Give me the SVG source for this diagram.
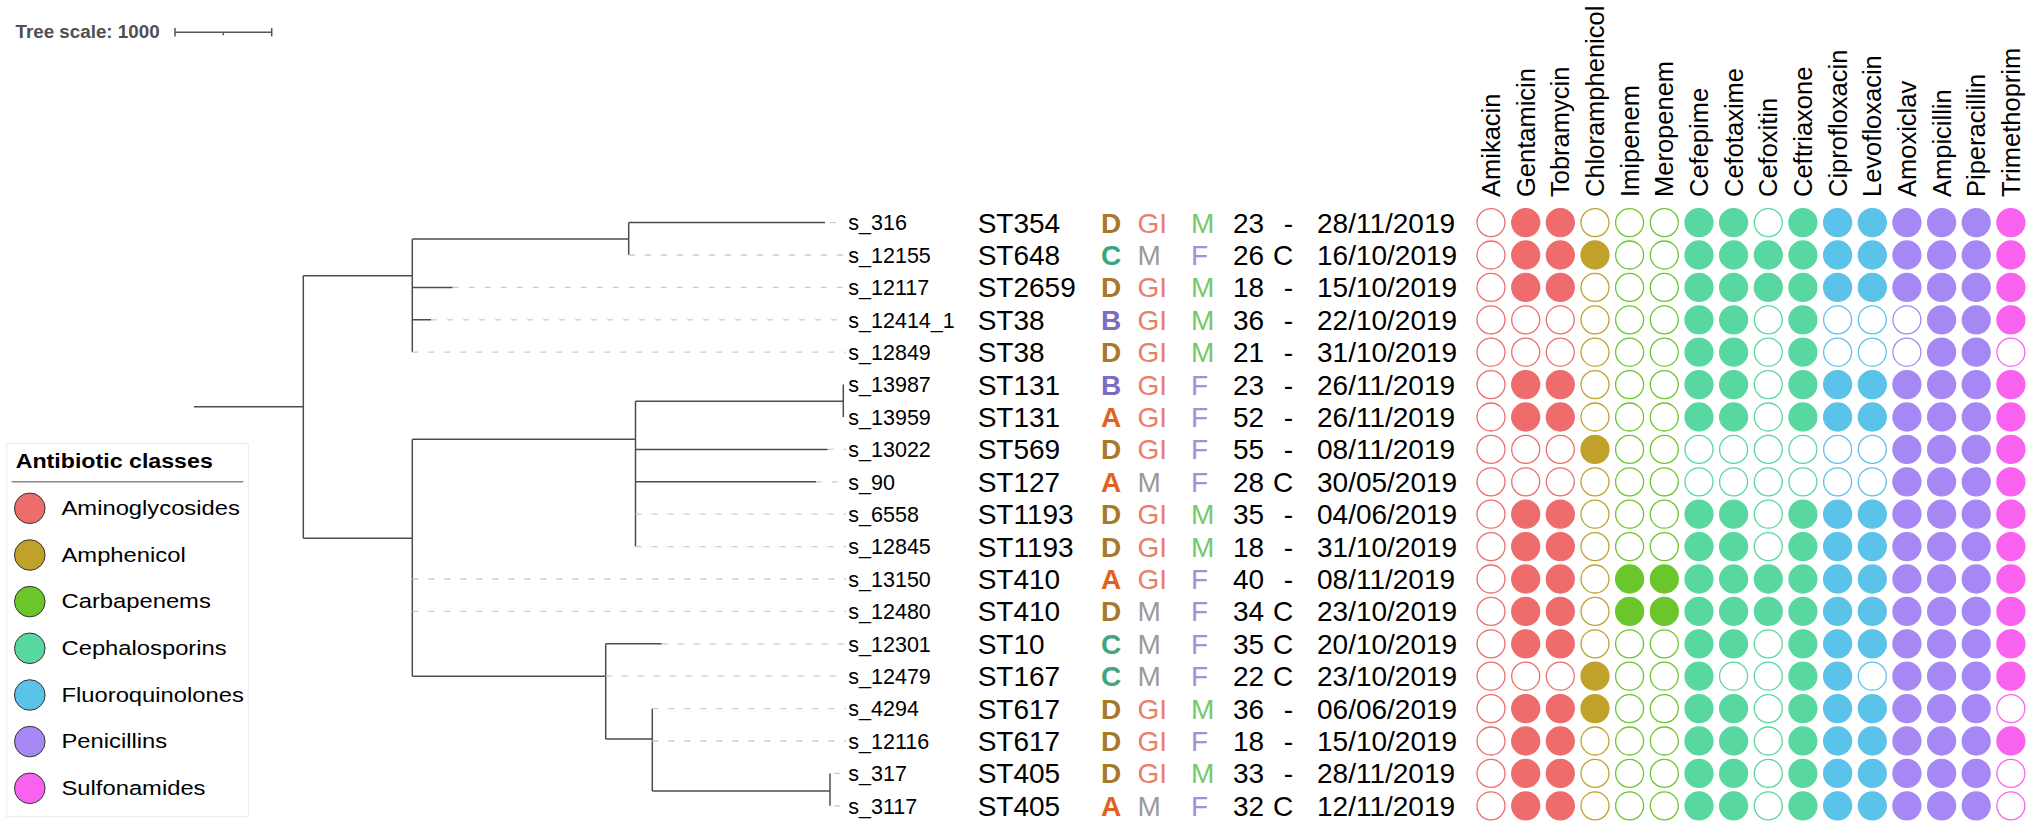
<svg xmlns="http://www.w3.org/2000/svg" width="2032" height="829" viewBox="0 0 2032 829">
<style>
text{font-family:"Liberation Sans",Arial,sans-serif;fill:#000}
.lf{font-size:21.5px}
.bg{font-size:28px}
.b{font-weight:bold}
.hd{font-size:25.5px}
.lg{font-size:20.5px}
.lD{fill:#a8782b}.lC{fill:#39a87a}.lB{fill:#7b6dbf}.lA{fill:#e0621e}
.gi{fill:#e8806a}.mg{fill:#9a9a9a}.mm{fill:#77c86a}.ff{fill:#a78fd6}
.tree{fill:none;stroke:#4d4d4d;stroke-width:1.5}
.dash{fill:none;stroke:#cccccc;stroke-width:1.3;stroke-dasharray:6 10}
circle{stroke-width:1.3}
.o{fill:#fff}
.am{stroke:#ee6c6c}.am.f{fill:#ee6c6c}
.ph{stroke:#c0a22b}.ph.f{fill:#c0a22b}
.cb{stroke:#6bc62b}.cb.f{fill:#6bc62b}
.cp{stroke:#58d8a0}.cp.f{fill:#58d8a0}
.fq{stroke:#5bc2e9}.fq.f{fill:#5bc2e9}
.pn{stroke:#a688f4}.pn.f{fill:#a688f4}
.su{stroke:#f962ee}.su.f{fill:#f962ee}
.lgc{stroke:#333;stroke-width:1}
</style>
<rect width="2032" height="829" fill="#fff"/>

<g id="tree-scale">
<text x="15.5" y="37.7" font-size="18.8" font-weight="bold" style="fill:#505050">Tree scale: 1000</text>
<path d="M175,32.3H271.7M175,28V36.5M271.7,28V36.5M223.3,32.3V35.3" fill="none" stroke="#555" stroke-width="1.5"/>
</g>

<g id="connectors">
<path class="tree" d="M194,406.7H303.3M303.3,275.7V538.3M303.3,275.7H412.3M412.3,239V352.2M412.3,239H628.7M628.7,222.6V255M628.7,222.6H825M412.3,287.4H452.7M412.3,319.8H431M303.3,538.3H412.3M412.3,439.3V676.2M412.3,439.3H635.5M635.5,401.2V546.6M635.5,401.2H843.3M843.3,384.6V417M635.5,449.4H827.7M635.5,481.8H816M412.3,676.2H605.7M605.7,643.8V739M605.7,643.8H661.7M605.7,739H652.3M652.3,708.6V791M652.3,791H830M830,773.4V805.8"/>
<path class="dash" d="M830,222.6H846M628.7,255H846M452.7,287.4H846M431,319.8H846M412.3,352.2H846M827.7,449.4H846M816,481.8H846M635.5,514.2H846M635.5,546.6H846M412.3,579H846M412.3,611.4H846M661.7,643.8H846M605.7,676.2H846M652.3,708.6H846M652.3,741H846M834,773.4H846M834,805.8H846"/>
</g>

<g id="headers" class="hd">
<text class="hd" transform="translate(1500,197) rotate(-90)">Amikacin</text>
<text class="hd" transform="translate(1534.7,197) rotate(-90)">Gentamicin</text>
<text class="hd" transform="translate(1569.3,197) rotate(-90)">Tobramycin</text>
<text class="hd" transform="translate(1604,197) rotate(-90)">Chloramphenicol</text>
<text class="hd" transform="translate(1638.6,197) rotate(-90)">Imipenem</text>
<text class="hd" transform="translate(1673.3,197) rotate(-90)">Meropenem</text>
<text class="hd" transform="translate(1708,197) rotate(-90)">Cefepime</text>
<text class="hd" transform="translate(1742.6,197) rotate(-90)">Cefotaxime</text>
<text class="hd" transform="translate(1777.3,197) rotate(-90)">Cefoxitin</text>
<text class="hd" transform="translate(1811.9,197) rotate(-90)">Ceftriaxone</text>
<text class="hd" transform="translate(1846.6,197) rotate(-90)">Ciprofloxacin</text>
<text class="hd" transform="translate(1881.3,197) rotate(-90)">Levofloxacin</text>
<text class="hd" transform="translate(1915.9,197) rotate(-90)">Amoxiclav</text>
<text class="hd" transform="translate(1950.6,197) rotate(-90)">Ampicillin</text>
<text class="hd" transform="translate(1985.2,197) rotate(-90)">Piperacillin</text>
<text class="hd" transform="translate(2019.9,197) rotate(-90)">Trimethoprim</text>
</g>

<g id="row-s_316" transform="translate(0,222.6)">
<text class="lf" x="848.3" y="7.7">s_316</text><text class="bg" x="977.7" y="10">ST354</text><text class="bg b lD" x="1101" y="10">D</text><text class="bg gi" x="1137.5" y="10">GI</text><text class="bg mm" x="1191" y="10">M</text><text class="bg" x="1233" y="10">23</text><text class="bg" x="1293.2" y="10" text-anchor="end">-</text><text class="bg" x="1317" y="10">28/11/2019</text>
<circle cx="1491" r="14" class="am o"/><circle cx="1525.7" r="14" class="am f"/><circle cx="1560.3" r="14" class="am f"/><circle cx="1595" r="14" class="ph o"/><circle cx="1629.6" r="14" class="cb o"/><circle cx="1664.3" r="14" class="cb o"/><circle cx="1699" r="14" class="cp f"/><circle cx="1733.6" r="14" class="cp f"/><circle cx="1768.3" r="14" class="cp o"/><circle cx="1802.9" r="14" class="cp f"/><circle cx="1837.6" r="14" class="fq f"/><circle cx="1872.3" r="14" class="fq f"/><circle cx="1906.9" r="14" class="pn f"/><circle cx="1941.6" r="14" class="pn f"/><circle cx="1976.2" r="14" class="pn f"/><circle cx="2010.9" r="14" class="su f"/>
</g>

<g id="row-s_12155" transform="translate(0,255)">
<text class="lf" x="848.3" y="7.7">s_12155</text><text class="bg" x="977.7" y="10">ST648</text><text class="bg b lC" x="1101" y="10">C</text><text class="bg mg" x="1137.5" y="10">M</text><text class="bg ff" x="1191" y="10">F</text><text class="bg" x="1233" y="10">26</text><text class="bg" x="1293.2" y="10" text-anchor="end">C</text><text class="bg" x="1317" y="10">16/10/2019</text>
<circle cx="1491" r="14" class="am o"/><circle cx="1525.7" r="14" class="am f"/><circle cx="1560.3" r="14" class="am f"/><circle cx="1595" r="14" class="ph f"/><circle cx="1629.6" r="14" class="cb o"/><circle cx="1664.3" r="14" class="cb o"/><circle cx="1699" r="14" class="cp f"/><circle cx="1733.6" r="14" class="cp f"/><circle cx="1768.3" r="14" class="cp f"/><circle cx="1802.9" r="14" class="cp f"/><circle cx="1837.6" r="14" class="fq f"/><circle cx="1872.3" r="14" class="fq f"/><circle cx="1906.9" r="14" class="pn f"/><circle cx="1941.6" r="14" class="pn f"/><circle cx="1976.2" r="14" class="pn f"/><circle cx="2010.9" r="14" class="su f"/>
</g>

<g id="row-s_12117" transform="translate(0,287.4)">
<text class="lf" x="848.3" y="7.7">s_12117</text><text class="bg" x="977.7" y="10">ST2659</text><text class="bg b lD" x="1101" y="10">D</text><text class="bg gi" x="1137.5" y="10">GI</text><text class="bg mm" x="1191" y="10">M</text><text class="bg" x="1233" y="10">18</text><text class="bg" x="1293.2" y="10" text-anchor="end">-</text><text class="bg" x="1317" y="10">15/10/2019</text>
<circle cx="1491" r="14" class="am o"/><circle cx="1525.7" r="14" class="am f"/><circle cx="1560.3" r="14" class="am f"/><circle cx="1595" r="14" class="ph o"/><circle cx="1629.6" r="14" class="cb o"/><circle cx="1664.3" r="14" class="cb o"/><circle cx="1699" r="14" class="cp f"/><circle cx="1733.6" r="14" class="cp f"/><circle cx="1768.3" r="14" class="cp f"/><circle cx="1802.9" r="14" class="cp f"/><circle cx="1837.6" r="14" class="fq f"/><circle cx="1872.3" r="14" class="fq f"/><circle cx="1906.9" r="14" class="pn f"/><circle cx="1941.6" r="14" class="pn f"/><circle cx="1976.2" r="14" class="pn f"/><circle cx="2010.9" r="14" class="su f"/>
</g>

<g id="row-s_12414_1" transform="translate(0,319.8)">
<text class="lf" x="848.3" y="7.7">s_12414_1</text><text class="bg" x="977.7" y="10">ST38</text><text class="bg b lB" x="1101" y="10">B</text><text class="bg gi" x="1137.5" y="10">GI</text><text class="bg mm" x="1191" y="10">M</text><text class="bg" x="1233" y="10">36</text><text class="bg" x="1293.2" y="10" text-anchor="end">-</text><text class="bg" x="1317" y="10">22/10/2019</text>
<circle cx="1491" r="14" class="am o"/><circle cx="1525.7" r="14" class="am o"/><circle cx="1560.3" r="14" class="am o"/><circle cx="1595" r="14" class="ph o"/><circle cx="1629.6" r="14" class="cb o"/><circle cx="1664.3" r="14" class="cb o"/><circle cx="1699" r="14" class="cp f"/><circle cx="1733.6" r="14" class="cp f"/><circle cx="1768.3" r="14" class="cp o"/><circle cx="1802.9" r="14" class="cp f"/><circle cx="1837.6" r="14" class="fq o"/><circle cx="1872.3" r="14" class="fq o"/><circle cx="1906.9" r="14" class="pn o"/><circle cx="1941.6" r="14" class="pn f"/><circle cx="1976.2" r="14" class="pn f"/><circle cx="2010.9" r="14" class="su f"/>
</g>

<g id="row-s_12849" transform="translate(0,352.2)">
<text class="lf" x="848.3" y="7.7">s_12849</text><text class="bg" x="977.7" y="10">ST38</text><text class="bg b lD" x="1101" y="10">D</text><text class="bg gi" x="1137.5" y="10">GI</text><text class="bg mm" x="1191" y="10">M</text><text class="bg" x="1233" y="10">21</text><text class="bg" x="1293.2" y="10" text-anchor="end">-</text><text class="bg" x="1317" y="10">31/10/2019</text>
<circle cx="1491" r="14" class="am o"/><circle cx="1525.7" r="14" class="am o"/><circle cx="1560.3" r="14" class="am o"/><circle cx="1595" r="14" class="ph o"/><circle cx="1629.6" r="14" class="cb o"/><circle cx="1664.3" r="14" class="cb o"/><circle cx="1699" r="14" class="cp f"/><circle cx="1733.6" r="14" class="cp f"/><circle cx="1768.3" r="14" class="cp o"/><circle cx="1802.9" r="14" class="cp f"/><circle cx="1837.6" r="14" class="fq o"/><circle cx="1872.3" r="14" class="fq o"/><circle cx="1906.9" r="14" class="pn o"/><circle cx="1941.6" r="14" class="pn f"/><circle cx="1976.2" r="14" class="pn f"/><circle cx="2010.9" r="14" class="su o"/>
</g>

<g id="row-s_13987" transform="translate(0,384.6)">
<text class="lf" x="848.3" y="7.7">s_13987</text><text class="bg" x="977.7" y="10">ST131</text><text class="bg b lB" x="1101" y="10">B</text><text class="bg gi" x="1137.5" y="10">GI</text><text class="bg ff" x="1191" y="10">F</text><text class="bg" x="1233" y="10">23</text><text class="bg" x="1293.2" y="10" text-anchor="end">-</text><text class="bg" x="1317" y="10">26/11/2019</text>
<circle cx="1491" r="14" class="am o"/><circle cx="1525.7" r="14" class="am f"/><circle cx="1560.3" r="14" class="am f"/><circle cx="1595" r="14" class="ph o"/><circle cx="1629.6" r="14" class="cb o"/><circle cx="1664.3" r="14" class="cb o"/><circle cx="1699" r="14" class="cp f"/><circle cx="1733.6" r="14" class="cp f"/><circle cx="1768.3" r="14" class="cp o"/><circle cx="1802.9" r="14" class="cp f"/><circle cx="1837.6" r="14" class="fq f"/><circle cx="1872.3" r="14" class="fq f"/><circle cx="1906.9" r="14" class="pn f"/><circle cx="1941.6" r="14" class="pn f"/><circle cx="1976.2" r="14" class="pn f"/><circle cx="2010.9" r="14" class="su f"/>
</g>

<g id="row-s_13959" transform="translate(0,417)">
<text class="lf" x="848.3" y="7.7">s_13959</text><text class="bg" x="977.7" y="10">ST131</text><text class="bg b lA" x="1101" y="10">A</text><text class="bg gi" x="1137.5" y="10">GI</text><text class="bg ff" x="1191" y="10">F</text><text class="bg" x="1233" y="10">52</text><text class="bg" x="1293.2" y="10" text-anchor="end">-</text><text class="bg" x="1317" y="10">26/11/2019</text>
<circle cx="1491" r="14" class="am o"/><circle cx="1525.7" r="14" class="am f"/><circle cx="1560.3" r="14" class="am f"/><circle cx="1595" r="14" class="ph o"/><circle cx="1629.6" r="14" class="cb o"/><circle cx="1664.3" r="14" class="cb o"/><circle cx="1699" r="14" class="cp f"/><circle cx="1733.6" r="14" class="cp f"/><circle cx="1768.3" r="14" class="cp o"/><circle cx="1802.9" r="14" class="cp f"/><circle cx="1837.6" r="14" class="fq f"/><circle cx="1872.3" r="14" class="fq f"/><circle cx="1906.9" r="14" class="pn f"/><circle cx="1941.6" r="14" class="pn f"/><circle cx="1976.2" r="14" class="pn f"/><circle cx="2010.9" r="14" class="su f"/>
</g>

<g id="row-s_13022" transform="translate(0,449.4)">
<text class="lf" x="848.3" y="7.7">s_13022</text><text class="bg" x="977.7" y="10">ST569</text><text class="bg b lD" x="1101" y="10">D</text><text class="bg gi" x="1137.5" y="10">GI</text><text class="bg ff" x="1191" y="10">F</text><text class="bg" x="1233" y="10">55</text><text class="bg" x="1293.2" y="10" text-anchor="end">-</text><text class="bg" x="1317" y="10">08/11/2019</text>
<circle cx="1491" r="14" class="am o"/><circle cx="1525.7" r="14" class="am o"/><circle cx="1560.3" r="14" class="am o"/><circle cx="1595" r="14" class="ph f"/><circle cx="1629.6" r="14" class="cb o"/><circle cx="1664.3" r="14" class="cb o"/><circle cx="1699" r="14" class="cp o"/><circle cx="1733.6" r="14" class="cp o"/><circle cx="1768.3" r="14" class="cp o"/><circle cx="1802.9" r="14" class="cp o"/><circle cx="1837.6" r="14" class="fq o"/><circle cx="1872.3" r="14" class="fq o"/><circle cx="1906.9" r="14" class="pn f"/><circle cx="1941.6" r="14" class="pn f"/><circle cx="1976.2" r="14" class="pn f"/><circle cx="2010.9" r="14" class="su f"/>
</g>

<g id="row-s_90" transform="translate(0,481.8)">
<text class="lf" x="848.3" y="7.7">s_90</text><text class="bg" x="977.7" y="10">ST127</text><text class="bg b lA" x="1101" y="10">A</text><text class="bg mg" x="1137.5" y="10">M</text><text class="bg ff" x="1191" y="10">F</text><text class="bg" x="1233" y="10">28</text><text class="bg" x="1293.2" y="10" text-anchor="end">C</text><text class="bg" x="1317" y="10">30/05/2019</text>
<circle cx="1491" r="14" class="am o"/><circle cx="1525.7" r="14" class="am o"/><circle cx="1560.3" r="14" class="am o"/><circle cx="1595" r="14" class="ph o"/><circle cx="1629.6" r="14" class="cb o"/><circle cx="1664.3" r="14" class="cb o"/><circle cx="1699" r="14" class="cp o"/><circle cx="1733.6" r="14" class="cp o"/><circle cx="1768.3" r="14" class="cp o"/><circle cx="1802.9" r="14" class="cp o"/><circle cx="1837.6" r="14" class="fq o"/><circle cx="1872.3" r="14" class="fq o"/><circle cx="1906.9" r="14" class="pn f"/><circle cx="1941.6" r="14" class="pn f"/><circle cx="1976.2" r="14" class="pn f"/><circle cx="2010.9" r="14" class="su f"/>
</g>

<g id="row-s_6558" transform="translate(0,514.2)">
<text class="lf" x="848.3" y="7.7">s_6558</text><text class="bg" x="977.7" y="10">ST1193</text><text class="bg b lD" x="1101" y="10">D</text><text class="bg gi" x="1137.5" y="10">GI</text><text class="bg mm" x="1191" y="10">M</text><text class="bg" x="1233" y="10">35</text><text class="bg" x="1293.2" y="10" text-anchor="end">-</text><text class="bg" x="1317" y="10">04/06/2019</text>
<circle cx="1491" r="14" class="am o"/><circle cx="1525.7" r="14" class="am f"/><circle cx="1560.3" r="14" class="am f"/><circle cx="1595" r="14" class="ph o"/><circle cx="1629.6" r="14" class="cb o"/><circle cx="1664.3" r="14" class="cb o"/><circle cx="1699" r="14" class="cp f"/><circle cx="1733.6" r="14" class="cp f"/><circle cx="1768.3" r="14" class="cp o"/><circle cx="1802.9" r="14" class="cp f"/><circle cx="1837.6" r="14" class="fq f"/><circle cx="1872.3" r="14" class="fq f"/><circle cx="1906.9" r="14" class="pn f"/><circle cx="1941.6" r="14" class="pn f"/><circle cx="1976.2" r="14" class="pn f"/><circle cx="2010.9" r="14" class="su f"/>
</g>

<g id="row-s_12845" transform="translate(0,546.6)">
<text class="lf" x="848.3" y="7.7">s_12845</text><text class="bg" x="977.7" y="10">ST1193</text><text class="bg b lD" x="1101" y="10">D</text><text class="bg gi" x="1137.5" y="10">GI</text><text class="bg mm" x="1191" y="10">M</text><text class="bg" x="1233" y="10">18</text><text class="bg" x="1293.2" y="10" text-anchor="end">-</text><text class="bg" x="1317" y="10">31/10/2019</text>
<circle cx="1491" r="14" class="am o"/><circle cx="1525.7" r="14" class="am f"/><circle cx="1560.3" r="14" class="am f"/><circle cx="1595" r="14" class="ph o"/><circle cx="1629.6" r="14" class="cb o"/><circle cx="1664.3" r="14" class="cb o"/><circle cx="1699" r="14" class="cp f"/><circle cx="1733.6" r="14" class="cp f"/><circle cx="1768.3" r="14" class="cp o"/><circle cx="1802.9" r="14" class="cp f"/><circle cx="1837.6" r="14" class="fq f"/><circle cx="1872.3" r="14" class="fq f"/><circle cx="1906.9" r="14" class="pn f"/><circle cx="1941.6" r="14" class="pn f"/><circle cx="1976.2" r="14" class="pn f"/><circle cx="2010.9" r="14" class="su f"/>
</g>

<g id="row-s_13150" transform="translate(0,579)">
<text class="lf" x="848.3" y="7.7">s_13150</text><text class="bg" x="977.7" y="10">ST410</text><text class="bg b lA" x="1101" y="10">A</text><text class="bg gi" x="1137.5" y="10">GI</text><text class="bg ff" x="1191" y="10">F</text><text class="bg" x="1233" y="10">40</text><text class="bg" x="1293.2" y="10" text-anchor="end">-</text><text class="bg" x="1317" y="10">08/11/2019</text>
<circle cx="1491" r="14" class="am o"/><circle cx="1525.7" r="14" class="am f"/><circle cx="1560.3" r="14" class="am f"/><circle cx="1595" r="14" class="ph o"/><circle cx="1629.6" r="14" class="cb f"/><circle cx="1664.3" r="14" class="cb f"/><circle cx="1699" r="14" class="cp f"/><circle cx="1733.6" r="14" class="cp f"/><circle cx="1768.3" r="14" class="cp f"/><circle cx="1802.9" r="14" class="cp f"/><circle cx="1837.6" r="14" class="fq f"/><circle cx="1872.3" r="14" class="fq f"/><circle cx="1906.9" r="14" class="pn f"/><circle cx="1941.6" r="14" class="pn f"/><circle cx="1976.2" r="14" class="pn f"/><circle cx="2010.9" r="14" class="su f"/>
</g>

<g id="row-s_12480" transform="translate(0,611.4)">
<text class="lf" x="848.3" y="7.7">s_12480</text><text class="bg" x="977.7" y="10">ST410</text><text class="bg b lD" x="1101" y="10">D</text><text class="bg mg" x="1137.5" y="10">M</text><text class="bg ff" x="1191" y="10">F</text><text class="bg" x="1233" y="10">34</text><text class="bg" x="1293.2" y="10" text-anchor="end">C</text><text class="bg" x="1317" y="10">23/10/2019</text>
<circle cx="1491" r="14" class="am o"/><circle cx="1525.7" r="14" class="am f"/><circle cx="1560.3" r="14" class="am f"/><circle cx="1595" r="14" class="ph o"/><circle cx="1629.6" r="14" class="cb f"/><circle cx="1664.3" r="14" class="cb f"/><circle cx="1699" r="14" class="cp f"/><circle cx="1733.6" r="14" class="cp f"/><circle cx="1768.3" r="14" class="cp f"/><circle cx="1802.9" r="14" class="cp f"/><circle cx="1837.6" r="14" class="fq f"/><circle cx="1872.3" r="14" class="fq f"/><circle cx="1906.9" r="14" class="pn f"/><circle cx="1941.6" r="14" class="pn f"/><circle cx="1976.2" r="14" class="pn f"/><circle cx="2010.9" r="14" class="su f"/>
</g>

<g id="row-s_12301" transform="translate(0,643.8)">
<text class="lf" x="848.3" y="7.7">s_12301</text><text class="bg" x="977.7" y="10">ST10</text><text class="bg b lC" x="1101" y="10">C</text><text class="bg mg" x="1137.5" y="10">M</text><text class="bg ff" x="1191" y="10">F</text><text class="bg" x="1233" y="10">35</text><text class="bg" x="1293.2" y="10" text-anchor="end">C</text><text class="bg" x="1317" y="10">20/10/2019</text>
<circle cx="1491" r="14" class="am o"/><circle cx="1525.7" r="14" class="am f"/><circle cx="1560.3" r="14" class="am f"/><circle cx="1595" r="14" class="ph o"/><circle cx="1629.6" r="14" class="cb o"/><circle cx="1664.3" r="14" class="cb o"/><circle cx="1699" r="14" class="cp f"/><circle cx="1733.6" r="14" class="cp f"/><circle cx="1768.3" r="14" class="cp o"/><circle cx="1802.9" r="14" class="cp f"/><circle cx="1837.6" r="14" class="fq f"/><circle cx="1872.3" r="14" class="fq f"/><circle cx="1906.9" r="14" class="pn f"/><circle cx="1941.6" r="14" class="pn f"/><circle cx="1976.2" r="14" class="pn f"/><circle cx="2010.9" r="14" class="su f"/>
</g>

<g id="row-s_12479" transform="translate(0,676.2)">
<text class="lf" x="848.3" y="7.7">s_12479</text><text class="bg" x="977.7" y="10">ST167</text><text class="bg b lC" x="1101" y="10">C</text><text class="bg mg" x="1137.5" y="10">M</text><text class="bg ff" x="1191" y="10">F</text><text class="bg" x="1233" y="10">22</text><text class="bg" x="1293.2" y="10" text-anchor="end">C</text><text class="bg" x="1317" y="10">23/10/2019</text>
<circle cx="1491" r="14" class="am o"/><circle cx="1525.7" r="14" class="am o"/><circle cx="1560.3" r="14" class="am o"/><circle cx="1595" r="14" class="ph f"/><circle cx="1629.6" r="14" class="cb o"/><circle cx="1664.3" r="14" class="cb o"/><circle cx="1699" r="14" class="cp f"/><circle cx="1733.6" r="14" class="cp o"/><circle cx="1768.3" r="14" class="cp o"/><circle cx="1802.9" r="14" class="cp f"/><circle cx="1837.6" r="14" class="fq f"/><circle cx="1872.3" r="14" class="fq o"/><circle cx="1906.9" r="14" class="pn f"/><circle cx="1941.6" r="14" class="pn f"/><circle cx="1976.2" r="14" class="pn f"/><circle cx="2010.9" r="14" class="su f"/>
</g>

<g id="row-s_4294" transform="translate(0,708.6)">
<text class="lf" x="848.3" y="7.7">s_4294</text><text class="bg" x="977.7" y="10">ST617</text><text class="bg b lD" x="1101" y="10">D</text><text class="bg gi" x="1137.5" y="10">GI</text><text class="bg mm" x="1191" y="10">M</text><text class="bg" x="1233" y="10">36</text><text class="bg" x="1293.2" y="10" text-anchor="end">-</text><text class="bg" x="1317" y="10">06/06/2019</text>
<circle cx="1491" r="14" class="am o"/><circle cx="1525.7" r="14" class="am f"/><circle cx="1560.3" r="14" class="am f"/><circle cx="1595" r="14" class="ph f"/><circle cx="1629.6" r="14" class="cb o"/><circle cx="1664.3" r="14" class="cb o"/><circle cx="1699" r="14" class="cp f"/><circle cx="1733.6" r="14" class="cp f"/><circle cx="1768.3" r="14" class="cp o"/><circle cx="1802.9" r="14" class="cp f"/><circle cx="1837.6" r="14" class="fq f"/><circle cx="1872.3" r="14" class="fq f"/><circle cx="1906.9" r="14" class="pn f"/><circle cx="1941.6" r="14" class="pn f"/><circle cx="1976.2" r="14" class="pn f"/><circle cx="2010.9" r="14" class="su o"/>
</g>

<g id="row-s_12116" transform="translate(0,741)">
<text class="lf" x="848.3" y="7.7">s_12116</text><text class="bg" x="977.7" y="10">ST617</text><text class="bg b lD" x="1101" y="10">D</text><text class="bg gi" x="1137.5" y="10">GI</text><text class="bg ff" x="1191" y="10">F</text><text class="bg" x="1233" y="10">18</text><text class="bg" x="1293.2" y="10" text-anchor="end">-</text><text class="bg" x="1317" y="10">15/10/2019</text>
<circle cx="1491" r="14" class="am o"/><circle cx="1525.7" r="14" class="am f"/><circle cx="1560.3" r="14" class="am f"/><circle cx="1595" r="14" class="ph o"/><circle cx="1629.6" r="14" class="cb o"/><circle cx="1664.3" r="14" class="cb o"/><circle cx="1699" r="14" class="cp f"/><circle cx="1733.6" r="14" class="cp f"/><circle cx="1768.3" r="14" class="cp o"/><circle cx="1802.9" r="14" class="cp f"/><circle cx="1837.6" r="14" class="fq f"/><circle cx="1872.3" r="14" class="fq f"/><circle cx="1906.9" r="14" class="pn f"/><circle cx="1941.6" r="14" class="pn f"/><circle cx="1976.2" r="14" class="pn f"/><circle cx="2010.9" r="14" class="su f"/>
</g>

<g id="row-s_317" transform="translate(0,773.4)">
<text class="lf" x="848.3" y="7.7">s_317</text><text class="bg" x="977.7" y="10">ST405</text><text class="bg b lD" x="1101" y="10">D</text><text class="bg gi" x="1137.5" y="10">GI</text><text class="bg mm" x="1191" y="10">M</text><text class="bg" x="1233" y="10">33</text><text class="bg" x="1293.2" y="10" text-anchor="end">-</text><text class="bg" x="1317" y="10">28/11/2019</text>
<circle cx="1491" r="14" class="am o"/><circle cx="1525.7" r="14" class="am f"/><circle cx="1560.3" r="14" class="am f"/><circle cx="1595" r="14" class="ph o"/><circle cx="1629.6" r="14" class="cb o"/><circle cx="1664.3" r="14" class="cb o"/><circle cx="1699" r="14" class="cp f"/><circle cx="1733.6" r="14" class="cp f"/><circle cx="1768.3" r="14" class="cp o"/><circle cx="1802.9" r="14" class="cp f"/><circle cx="1837.6" r="14" class="fq f"/><circle cx="1872.3" r="14" class="fq f"/><circle cx="1906.9" r="14" class="pn f"/><circle cx="1941.6" r="14" class="pn f"/><circle cx="1976.2" r="14" class="pn f"/><circle cx="2010.9" r="14" class="su o"/>
</g>

<g id="row-s_3117" transform="translate(0,805.8)">
<text class="lf" x="848.3" y="7.7">s_3117</text><text class="bg" x="977.7" y="10">ST405</text><text class="bg b lA" x="1101" y="10">A</text><text class="bg mg" x="1137.5" y="10">M</text><text class="bg ff" x="1191" y="10">F</text><text class="bg" x="1233" y="10">32</text><text class="bg" x="1293.2" y="10" text-anchor="end">C</text><text class="bg" x="1317" y="10">12/11/2019</text>
<circle cx="1491" r="14" class="am o"/><circle cx="1525.7" r="14" class="am f"/><circle cx="1560.3" r="14" class="am f"/><circle cx="1595" r="14" class="ph o"/><circle cx="1629.6" r="14" class="cb o"/><circle cx="1664.3" r="14" class="cb o"/><circle cx="1699" r="14" class="cp f"/><circle cx="1733.6" r="14" class="cp f"/><circle cx="1768.3" r="14" class="cp o"/><circle cx="1802.9" r="14" class="cp f"/><circle cx="1837.6" r="14" class="fq f"/><circle cx="1872.3" r="14" class="fq f"/><circle cx="1906.9" r="14" class="pn f"/><circle cx="1941.6" r="14" class="pn f"/><circle cx="1976.2" r="14" class="pn f"/><circle cx="2010.9" r="14" class="su o"/>
</g>

<g id="legend">
<rect x="6.7" y="443.3" width="241.6" height="373.4" fill="#fff" stroke="#ececec" stroke-width="1"/>
<text class="b" font-size="20" transform="translate(15.7,468.3) scale(1.16,1)">Antibiotic classes</text>
<line x1="11.7" y1="481.7" x2="243.3" y2="481.7" stroke="#888" stroke-width="1.5"/>
<circle class="lgc" cx="29.8" cy="508.3" r="15.3" fill="#ee6c6c"/>
<text class="lg" transform="translate(61.5,515) scale(1.16,1)">Aminoglycosides</text>
<circle class="lgc" cx="29.8" cy="555" r="15.3" fill="#c0a22b"/>
<text class="lg" transform="translate(61.5,561.7) scale(1.16,1)">Amphenicol</text>
<circle class="lgc" cx="29.8" cy="601.6" r="15.3" fill="#6bc62b"/>
<text class="lg" transform="translate(61.5,608.3) scale(1.16,1)">Carbapenems</text>
<circle class="lgc" cx="29.8" cy="648.3" r="15.3" fill="#58d8a0"/>
<text class="lg" transform="translate(61.5,655) scale(1.16,1)">Cephalosporins</text>
<circle class="lgc" cx="29.8" cy="695" r="15.3" fill="#5bc2e9"/>
<text class="lg" transform="translate(61.5,701.7) scale(1.16,1)">Fluoroquinolones</text>
<circle class="lgc" cx="29.8" cy="741.6" r="15.3" fill="#a688f4"/>
<text class="lg" transform="translate(61.5,748.3) scale(1.16,1)">Penicillins</text>
<circle class="lgc" cx="29.8" cy="788.3" r="15.3" fill="#f962ee"/>
<text class="lg" transform="translate(61.5,795) scale(1.16,1)">Sulfonamides</text>
</g>
</svg>
